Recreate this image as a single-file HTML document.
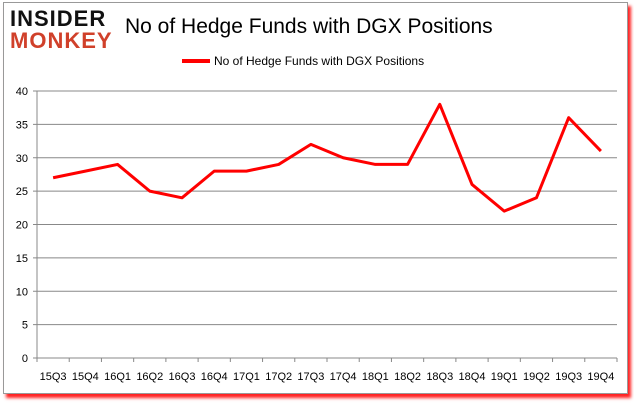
<!DOCTYPE html>
<html><head><meta charset="utf-8"><style>
body{margin:0;background:#fff;width:634px;height:404px;overflow:hidden;font-family:"Liberation Sans",sans-serif}
#frame{position:absolute;left:3px;top:2px;width:623px;height:390px;border:1px solid #999;background:#fff;box-shadow:3px 4px 3px #f22}
</style></head><body>
<div id="frame"></div>
<svg width="634" height="404" style="position:absolute;left:0;top:0">
<g>
<text x="10" y="26" font-size="22" font-weight="bold" fill="#111" letter-spacing="1" font-family="Liberation Sans">INSIDER</text>
<text x="10" y="48" font-size="22" font-weight="bold" fill="#d0402a" letter-spacing="1" font-family="Liberation Sans">MONKEY</text>
</g>
<text x="125" y="33" font-size="21" fill="#000">No of Hedge Funds with DGX Positions</text>
<line x1="182" y1="61" x2="210" y2="61" stroke="#f00" stroke-width="4"/>
<text x="214" y="65" font-size="12" fill="#000">No of Hedge Funds with DGX Positions</text>
<g id="grid"></g><g id="axes"></g>
<polyline id="line" fill="none" stroke="#f00" stroke-width="3" stroke-linejoin="round"/>
</svg>
<script>
const categories=["15Q3","15Q4","16Q1","16Q2","16Q3","16Q4","17Q1","17Q2","17Q3","17Q4","18Q1","18Q2","18Q3","18Q4","19Q1","19Q2","19Q3","19Q4"];
const values=[27,28,29,25,24,28,28,29,32,30,29,29,38,26,22,24,36,31];
const yTicks=[0,5,10,15,20,25,30,35,40];
const L=37,R=617,T=91,B=358,yMax=40;
const step=(R-L)/categories.length;
const x=i=>L+step*(i+0.5);
const y=v=>B-(v/yMax)*(B-T);
const NS="http://www.w3.org/2000/svg";
const grid=document.getElementById('grid'),axes=document.getElementById('axes');
function mk(p,tag,a){const e=document.createElementNS(NS,tag);for(const k in a)e.setAttribute(k,a[k]);p.appendChild(e);return e;}
yTicks.forEach(t=>{
  const g=mk(grid,'line',{x1:L,x2:R,y1:y(t),y2:y(t),stroke:'#888','stroke-width':1});
  
  
  mk(axes,'line',{x1:L-4,x2:L,y1:y(t),y2:y(t),stroke:'#888'});
  const tx=mk(axes,'text',{x:L-9,y:y(t)+4,'font-size':11,'text-anchor':'end',fill:'#000'});
  tx.textContent=t;
  
  
});
mk(axes,'line',{x1:L,x2:L,y1:T,y2:B,stroke:'#888'});
for(let i=0;i<=categories.length;i++)mk(axes,'line',{x1:L+step*i,x2:L+step*i,y1:B,y2:B+4,stroke:'#888'});
categories.forEach((c,i)=>{
  const tx=mk(axes,'text',{x:x(i),y:B+22,'font-size':11,'text-anchor':'middle',fill:'#000'});
  tx.textContent=c;
  
  
});
document.getElementById('line').setAttribute('points',values.map((v,i)=>x(i)+','+y(v)).join(' '));
</script>
</body></html>
